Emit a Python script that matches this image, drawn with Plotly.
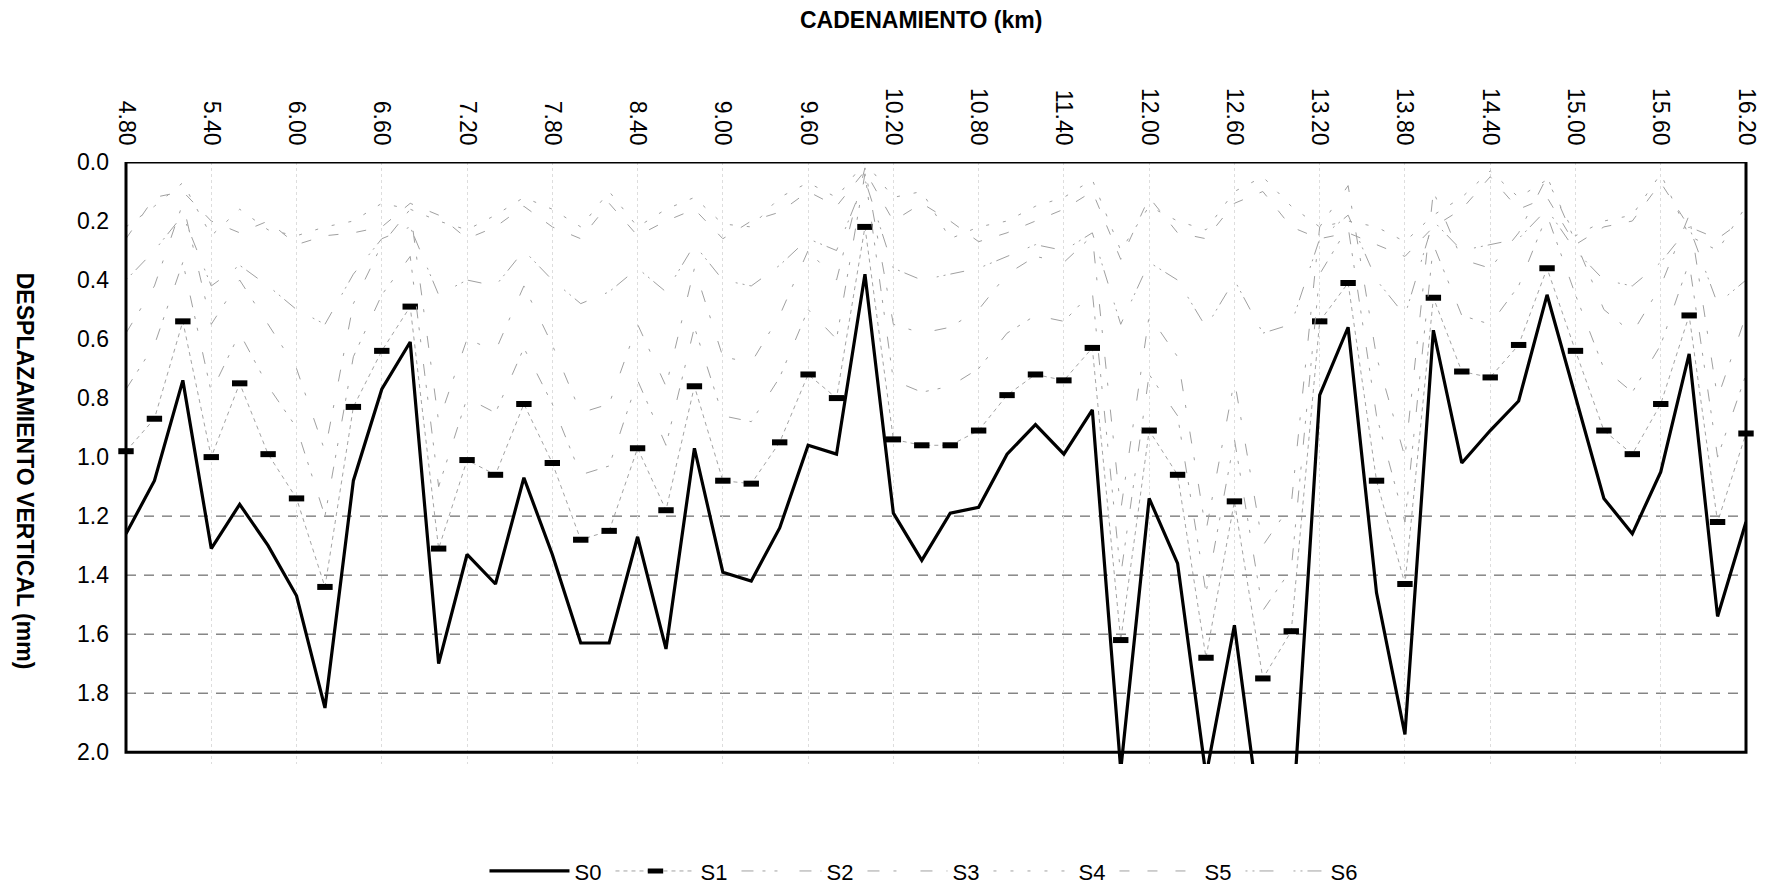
import plotly.graph_objects as go

KM = [4.8, 5.0, 5.2, 5.4, 5.6, 5.8, 6.0, 6.2, 6.4, 6.6, 6.8, 7.0, 7.2, 7.4, 7.6, 7.8,
      8.0, 8.2, 8.4, 8.6, 8.8, 9.0, 9.2, 9.4, 9.6, 9.8, 10.0, 10.2, 10.4, 10.6, 10.8,
      11.0, 11.2, 11.4, 11.6, 11.8, 12.0, 12.2, 12.4, 12.6, 12.8, 13.0, 13.2, 13.4,
      13.6, 13.8, 14.0, 14.2, 14.4, 14.6, 14.8, 15.0, 15.2, 15.4, 15.6, 15.8, 16.0, 16.2]

S0 = [1.26, 1.08, 0.74, 1.31, 1.16, 1.30, 1.47, 1.85, 1.08, 0.77, 0.61, 1.70, 1.33, 1.43,
      1.07, 1.33, 1.63, 1.63, 1.27, 1.65, 0.97, 1.39, 1.42, 1.24, 0.96, 0.99, 0.38, 1.19,
      1.35, 1.19, 1.17, 0.99, 0.89, 0.99, 0.84, 2.06, 1.14, 1.36, 2.08, 1.57, 2.30, 2.30,
      0.79, 0.56, 1.46, 1.94, 0.57, 1.02, 0.91, 0.81, 0.45, 0.80, 1.14, 1.26, 1.05, 0.65,
      1.54, 1.22]

S1 = [0.98, 0.87, 0.54, 1.00, 0.75, 0.99, 1.14, 1.44, 0.83, 0.64, 0.49, 1.31, 1.01, 1.06,
      0.82, 1.02, 1.28, 1.25, 0.97, 1.18, 0.76, 1.08, 1.09, 0.95, 0.72, 0.80, 0.22, 0.94,
      0.96, 0.96, 0.91, 0.79, 0.72, 0.74, 0.63, 1.62, 0.91, 1.06, 1.68, 1.15, 1.75, 1.59,
      0.54, 0.41, 1.08, 1.43, 0.46, 0.71, 0.73, 0.62, 0.36, 0.64, 0.91, 0.99, 0.82, 0.52,
      1.22, 0.92]

S2 = [0.77, 0.62, 0.34, 0.78, 0.58, 0.76, 0.90, 1.20, 0.66, 0.45, 0.32, 1.10, 0.80, 0.85,
      0.63, 0.82, 1.06, 1.03, 0.74, 0.96, 0.56, 0.86, 0.88, 0.73, 0.50, 0.60, 0.04, 0.74,
      0.78, 0.76, 0.70, 0.58, 0.52, 0.54, 0.44, 1.40, 0.72, 0.86, 1.46, 0.94, 1.52, 1.38,
      0.38, 0.22, 0.86, 1.22, 0.28, 0.52, 0.55, 0.42, 0.18, 0.45, 0.70, 0.78, 0.62, 0.34,
      1.00, 0.72]

S3 = [0.58, 0.42, 0.14, 0.55, 0.40, 0.55, 0.70, 0.98, 0.48, 0.28, 0.16, 0.88, 0.60, 0.64,
      0.42, 0.62, 0.85, 0.82, 0.55, 0.76, 0.36, 0.66, 0.68, 0.52, 0.30, 0.40, 0.02, 0.55,
      0.58, 0.56, 0.50, 0.38, 0.32, 0.34, 0.25, 1.18, 0.52, 0.66, 1.25, 0.74, 1.30, 1.16,
      0.22, 0.08, 0.66, 1.00, 0.10, 0.33, 0.36, 0.24, 0.05, 0.27, 0.50, 0.58, 0.42, 0.18,
      0.80, 0.52]

S4 = [0.22, 0.15, 0.07, 0.25, 0.16, 0.23, 0.25, 0.22, 0.20, 0.14, 0.16, 0.20, 0.23, 0.18,
      0.12, 0.16, 0.22, 0.10, 0.22, 0.16, 0.12, 0.21, 0.22, 0.12, 0.07, 0.12, 0.00, 0.12,
      0.10, 0.26, 0.22, 0.20, 0.15, 0.12, 0.06, 0.30, 0.15, 0.20, 0.23, 0.10, 0.05, 0.15,
      0.22, 0.20, 0.22, 0.27, 0.18, 0.12, 0.03, 0.12, 0.06, 0.25, 0.20, 0.18, 0.04, 0.25,
      0.30, 0.15]

S5 = [0.26, 0.12, 0.10, 0.20, 0.24, 0.20, 0.28, 0.25, 0.24, 0.22, 0.14, 0.18, 0.26, 0.22,
      0.15, 0.22, 0.26, 0.14, 0.25, 0.20, 0.16, 0.26, 0.20, 0.17, 0.10, 0.15, 0.03, 0.20,
      0.14, 0.20, 0.27, 0.24, 0.20, 0.16, 0.10, 0.33, 0.12, 0.24, 0.26, 0.14, 0.10, 0.22,
      0.26, 0.24, 0.28, 0.32, 0.22, 0.16, 0.05, 0.16, 0.12, 0.28, 0.22, 0.20, 0.07, 0.22,
      0.26, 0.19]

S6 = [0.40, 0.30, 0.18, 0.42, 0.35, 0.42, 0.50, 0.55, 0.38, 0.26, 0.22, 0.45, 0.40, 0.42,
      0.30, 0.40, 0.48, 0.44, 0.36, 0.44, 0.28, 0.40, 0.42, 0.35, 0.26, 0.30, 0.06, 0.36,
      0.40, 0.38, 0.36, 0.32, 0.28, 0.30, 0.24, 0.55, 0.34, 0.40, 0.56, 0.40, 0.58, 0.55,
      0.26, 0.18, 0.40, 0.52, 0.20, 0.30, 0.28, 0.26, 0.16, 0.30, 0.40, 0.42, 0.34, 0.22,
      0.48, 0.40]

GRID_Y = [1.2, 1.4, 1.6, 1.8]

FONT = "Liberation Sans, Arial, sans-serif"

fig = go.Figure()

faint = [
    ("S2", S2, "12px,9px,3px,9px,3px,22px"),
    ("S3", S3, "12px,14px,3px,24px"),
    ("S4", S4, "3px,14px"),
    ("S5", S5, "10px,18px"),
    ("S6", S6, "2px,5px,2px,5px,14px,20px"),
]

fig.add_trace(go.Scatter(x=KM, y=S0, name="S0", mode="lines",
                         line=dict(color="black", width=3.2)))
fig.add_trace(go.Scatter(x=KM, y=S1, name="S1", mode="lines+markers",
                         line=dict(color="#8c8c8c", width=0.8, dash="4px,4px"),
                         marker=dict(symbol="line-ew", size=11, color="black",
                                     line=dict(width=6, color="black")),
                         cliponaxis=False))
for name, vals, dash in faint:
    fig.add_trace(go.Scatter(x=KM, y=vals, name=name, mode="lines",
                             line=dict(color="#a0a0a0", width=1, dash=dash)))

shapes = []
for v in GRID_Y:
    shapes.append(dict(type="line", xref="x domain", x0=0, x1=1, yref="y", y0=v, y1=v,
                       line=dict(color="#4a4a4a", width=1, dash="10px,8px"), layer="below"))
shapes.append(dict(type="rect", xref="x domain", x0=0, x1=1, yref="y", y0=0, y1=2.0,
                   line=dict(color="black", width=3), layer="above"))

fig.update_layout(
    width=1771, height=886,
    margin=dict(l=126, r=25, t=162, b=122, autoexpand=False),
    paper_bgcolor="white", plot_bgcolor="white",
    font=dict(family=FONT, color="black", size=22),
    shapes=shapes,
    xaxis=dict(side="top", range=[4.8, 16.2], tickmode="linear", tick0=4.8, dtick=0.6,
               tickformat=".2f", tickangle=90, tickfont=dict(size=23),
               showgrid=True, gridcolor="#dddddd", griddash="dot", gridwidth=1,
               zeroline=False, showline=False, ticks="", ticklabelstandoff=12),
    yaxis=dict(range=[2.04, 0], tickmode="linear", tick0=0, dtick=0.2, tickformat=".1f",
               tickfont=dict(size=23), showgrid=False, zeroline=False, showline=False,
               ticks="", ticklabelstandoff=16),
    legend=dict(orientation="h", x=0.4935, xanchor="center", y=-0.178, yanchor="middle",
                font=dict(size=22), itemwidth=80, entrywidth=31, entrywidthmode="pixels",
                bgcolor="rgba(0,0,0,0)"),
    annotations=[
        dict(text="<b>CADENAMIENTO (km)</b>", xref="paper", yref="paper", x=0.491, y=1.236,
             xanchor="center", yanchor="middle", showarrow=False, font=dict(size=23)),
        dict(text="<b>DESPLAZAMIENTO VERTICAL (mm)</b>", xref="paper", yref="paper",
             x=-0.0623, y=0.487, xanchor="center", yanchor="middle", textangle=90,
             showarrow=False, font=dict(size=23)),
    ],
)

fig.write_html("out.html")
